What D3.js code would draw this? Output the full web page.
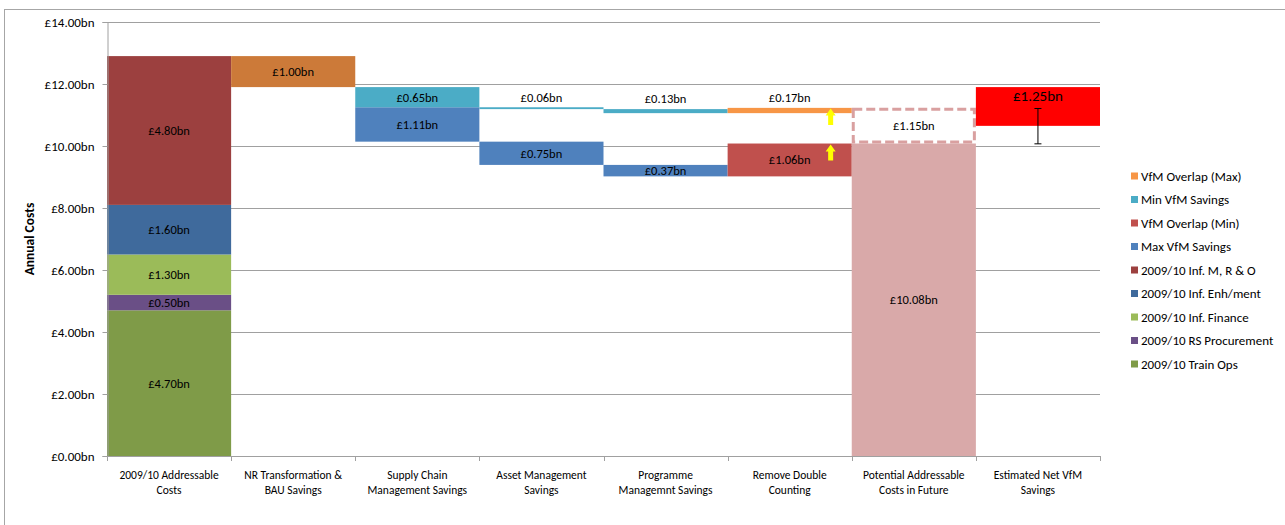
<!DOCTYPE html>
<html>
<head>
<meta charset="utf-8">
<script src="https://cdn.jsdelivr.net/npm/d3@7"></script>
<style>
  body { margin: 0; background: #fff; }
  svg text { font-family: Carlito, "Liberation Sans", Arial, sans-serif; fill: #000; }
</style>
</head>
<body>
<div id="chart"></div>
<script>
// categories, two lines each as in the source chart
var categories = [
  ["2009/10 Addressable", "Costs"],
  ["NR Transformation  &", "BAU Savings"],
  ["Supply Chain", "Management Savings"],
  ["Asset Management", "Savings"],
  ["Programme", "Managemnt Savings"],
  ["Remove Double", "Counting"],
  ["Potential Addressable", "Costs in Future"],
  ["Estimated Net VfM", "Savings"]
];

// stacked segments, bottom to top (bn)
var baseValues      = [0, 11.90, 10.14, 9.39, 9.02, 9.02, 0, 10.65];
var trainOps        = [4.70, 0, 0, 0, 0, 0, 0, 0];
var rsProcurement   = [0.50, 0, 0, 0, 0, 0, 0, 0];
var infFinance      = [1.30, 0, 0, 0, 0, 0, 0, 0];
var infEnhment      = [1.60, 0, 0, 0, 0, 0, 0, 0];
var infMRO          = [4.80, 0, 0, 0, 0, 0, 0, 0];
var nrTransform     = [0, 1.00, 0, 0, 0, 0, 0, 0];
var maxVfm          = [0, 0, 1.11, 0.75, 0.37, 0, 0, 0];
var overlapMin      = [0, 0, 0, 0, 0, 1.06, 0, 0];
var potentialFuture = [0, 0, 0, 0, 0, 0, 10.08, 0];
var gapValues       = [0, 0, 0, 1.05, 1.67, 0.98, 0, 0];
var minVfm          = [0, 0, 0.65, 0.06, 0.13, 0, 0, 0];
var overlapMax      = [0, 0, 0, 0, 0, 0.17, 0, 0];
var potentialExtra  = [0, 0, 0, 0, 0, 0, 1.15, 0];
var netVfm          = [0, 0, 0, 0, 0, 0, 0, 1.25];

var yTicks = [0, 2, 4, 6, 8, 10, 12, 14];

// yellow arrows in "Remove Double Counting" and error bar on net savings
var arrows = [{cat: 5, from: 10.68, to: 11.21}, {cat: 5, from: 9.53, to: 10.05}];
var errorBars = [{cat: 7, low: 10.07, high: 11.21}];

var series = [
  {key: "base", values: baseValues, color: "none"},
  {key: "2009/10 Train Ops", values: trainOps, color: "#7f9b48", legend: true},
  {key: "2009/10 RS Procurement", values: rsProcurement, color: "#6a4f86", legend: true},
  {key: "2009/10 Inf. Finance", values: infFinance, color: "#9bbb59", legend: true},
  {key: "2009/10 Inf. Enh/ment", values: infEnhment, color: "#3f6a9c", legend: true},
  {key: "2009/10 Inf. M, R & O", values: infMRO, color: "#9c403f", legend: true},
  {key: "NR Transformation", values: nrTransform, color: "#cc7a39"},
  {key: "Max VfM Savings", values: maxVfm, color: "#4f81bd", legend: true},
  {key: "VfM Overlap (Min)", values: overlapMin, color: "#c0504d", legend: true},
  {key: "Potential", values: potentialFuture, color: "#d9a9a9"},
  {key: "gap", values: gapValues, color: "none"},
  {key: "Min VfM  Savings", values: minVfm, color: "#4bacc6", legend: true},
  {key: "VfM Overlap (Max)", values: overlapMax, color: "#f79646", legend: true},
  {key: "Potential Extra", values: potentialExtra, color: "#fff", dashed: true},
  {key: "Net VfM", values: netVfm, color: "#ff0000", big: true}
];

var width = 1285, height = 525;
var plot = {left: 107, right: 1100, top: 22, bottom: 456};

var svg = d3.select("#chart").append("svg")
  .attr("width", width)
  .attr("height", height);

// outer chart border (only top/left visible in crop)
svg.append("rect")
  .attr("x", 4.5).attr("y", 9.5)
  .attr("width", 1400).attr("height", 700)
  .attr("fill", "#fff")
  .attr("stroke", "#a6a6a6");

var x = d3.scaleBand()
  .domain(d3.range(categories.length))
  .range([plot.left, plot.right])
  .padding(0);

var y = d3.scaleLinear()
  .domain([0, 14])
  .range([plot.bottom, plot.top]);

// gridlines
svg.append("g").selectAll("line")
  .data(yTicks.filter(function (d) { return d > 0; }))
  .enter().append("line")
  .attr("x1", plot.left).attr("x2", plot.right)
  .attr("y1", function (d) { return Math.round(y(d)) + 0.5; })
  .attr("y2", function (d) { return Math.round(y(d)) + 0.5; })
  .attr("stroke", "#a0a0a0");

var table = categories.map(function (c, i) {
  var row = {idx: i};
  series.forEach(function (s) { row[s.key] = s.values[i]; });
  return row;
});

var stacked = d3.stack().keys(series.map(function (s) { return s.key; }))(table);

var fmt = function (v) { return "£" + v.toFixed(2) + "bn"; };

stacked.forEach(function (layer, li) {
  var s = series[li];
  if (s.color === "none") return;
  var g = svg.append("g");
  var segs = layer.filter(function (d) { return d[1] - d[0] > 0; });
  g.selectAll("rect").data(segs).enter().append("rect")
    .attr("x", function (d) { return x(d.data.idx) + (s.dashed ? 1.5 : 0); })
    .attr("width", x.bandwidth() - (s.dashed ? 3 : 0))
    .attr("y", function (d) { return y(d[1]) + (s.dashed ? 1.5 : 0); })
    .attr("height", function (d) { return y(d[0]) - y(d[1]) - (s.dashed ? 3 : 0); })
    .attr("fill", s.color)
    .attr("stroke", s.dashed ? "#d9a0a0" : "none")
    .attr("stroke-width", s.dashed ? 3 : 0)
    .attr("stroke-dasharray", s.dashed ? "9,4" : null);

  g.selectAll("text").data(segs).enter().append("text")
    .attr("x", function (d) { return x(d.data.idx) + x.bandwidth() / 2; })
    .attr("y", function (d) {
      var h = y(d[0]) - y(d[1]);
      if (s.big) return y(d[1]) + 9;
      if (h < 8) return y(d[1]) - 10;
      return (y(d[0]) + y(d[1])) / 2;
    })
    .attr("dy", "0.35em")
    .attr("text-anchor", "middle")
    .style("font-size", s.big ? "15px" : "12.5px")
    .text(function (d) { return fmt(d[1] - d[0]); });
});

// yellow arrows
svg.append("g").selectAll("path").data(arrows).enter().append("path")
  .attr("d", function (a) {
    var cx = x(a.cat) + x.bandwidth() * 0.83;
    var top = y(a.to), bot = y(a.from);
    var hh = 7;
    return "M" + cx + "," + top +
      "L" + (cx + 5) + "," + (top + hh) +
      "L" + (cx + 2.5) + "," + (top + hh) +
      "L" + (cx + 2.5) + "," + bot +
      "L" + (cx - 2.5) + "," + bot +
      "L" + (cx - 2.5) + "," + (top + hh) +
      "L" + (cx - 5) + "," + (top + hh) + "Z";
  })
  .attr("fill", "#ffff00");

// error bar
var eb = svg.append("g").selectAll("g").data(errorBars).enter().append("g")
  .attr("stroke", "#000").attr("stroke-width", 1);
eb.append("line")
  .attr("x1", function (d) { return x(d.cat) + x.bandwidth() / 2; })
  .attr("x2", function (d) { return x(d.cat) + x.bandwidth() / 2; })
  .attr("y1", function (d) { return y(d.high); })
  .attr("y2", function (d) { return y(d.low); });
[ "high", "low" ].forEach(function (k) {
  eb.append("line")
    .attr("x1", function (d) { return x(d.cat) + x.bandwidth() / 2 - 3.5; })
    .attr("x2", function (d) { return x(d.cat) + x.bandwidth() / 2 + 3.5; })
    .attr("y1", function (d) { return y(d[k]); })
    .attr("y2", function (d) { return y(d[k]); });
});

// y axis
var yAxis = svg.append("g")
  .attr("transform", "translate(" + (plot.left + 0.5) + ",0)")
  .call(d3.axisLeft(y).tickValues(yTicks).tickSize(5).tickPadding(8)
    .tickFormat(function (d) { return fmt(d); }));
yAxis.select(".domain").attr("stroke", "#a0a0a0");
yAxis.selectAll(".tick line").attr("stroke", "#a0a0a0");
yAxis.selectAll("text").style("font-size", "13px");

// x axis baseline and boundary ticks
var xg = svg.append("g");
xg.append("line")
  .attr("x1", plot.left).attr("x2", plot.right)
  .attr("y1", plot.bottom + 0.5).attr("y2", plot.bottom + 0.5)
  .attr("stroke", "#a0a0a0");
xg.selectAll("line.tk")
  .data(d3.range(categories.length + 1))
  .enter().append("line")
  .attr("class", "tk")
  .attr("x1", function (i) { return Math.round(plot.left + i * x.bandwidth()) + 0.5; })
  .attr("x2", function (i) { return Math.round(plot.left + i * x.bandwidth()) + 0.5; })
  .attr("y1", plot.bottom).attr("y2", plot.bottom + 5)
  .attr("stroke", "#a0a0a0");
var xl = xg.selectAll("text").data(categories).enter().append("text")
  .attr("x", function (c, i) { return x(i) + x.bandwidth() / 2; })
  .attr("y", 479)
  .attr("text-anchor", "middle")
  .style("font-size", "11.5px");
xl.append("tspan").attr("x", function (c, i) { return x(i) + x.bandwidth() / 2; })
  .text(function (c) { return c[0]; });
xl.append("tspan").attr("x", function (c, i) { return x(i) + x.bandwidth() / 2; })
  .attr("dy", 15)
  .text(function (c) { return c[1]; });

// axis title
svg.append("text")
  .attr("transform", "translate(34,239) rotate(-90)")
  .attr("text-anchor", "middle")
  .style("font-size", "13.5px")
  .style("font-weight", "bold")
  .text("Annual Costs");

// legend
var legendItems = series.filter(function (s) { return s.legend; }).reverse();
var lg = svg.append("g").selectAll("g").data(legendItems).enter().append("g")
  .attr("transform", function (d, i) { return "translate(1131," + (176 + i * 23.5) + ")"; });
lg.append("rect")
  .attr("x", 0).attr("y", -3.5).attr("width", 7).attr("height", 7)
  .attr("fill", function (d) { return d.color; });
lg.append("text")
  .attr("x", 10).attr("dy", "0.35em")
  .style("font-size", "13px")
  .text(function (d) { return d.key; });
</script>
</body>
</html>
